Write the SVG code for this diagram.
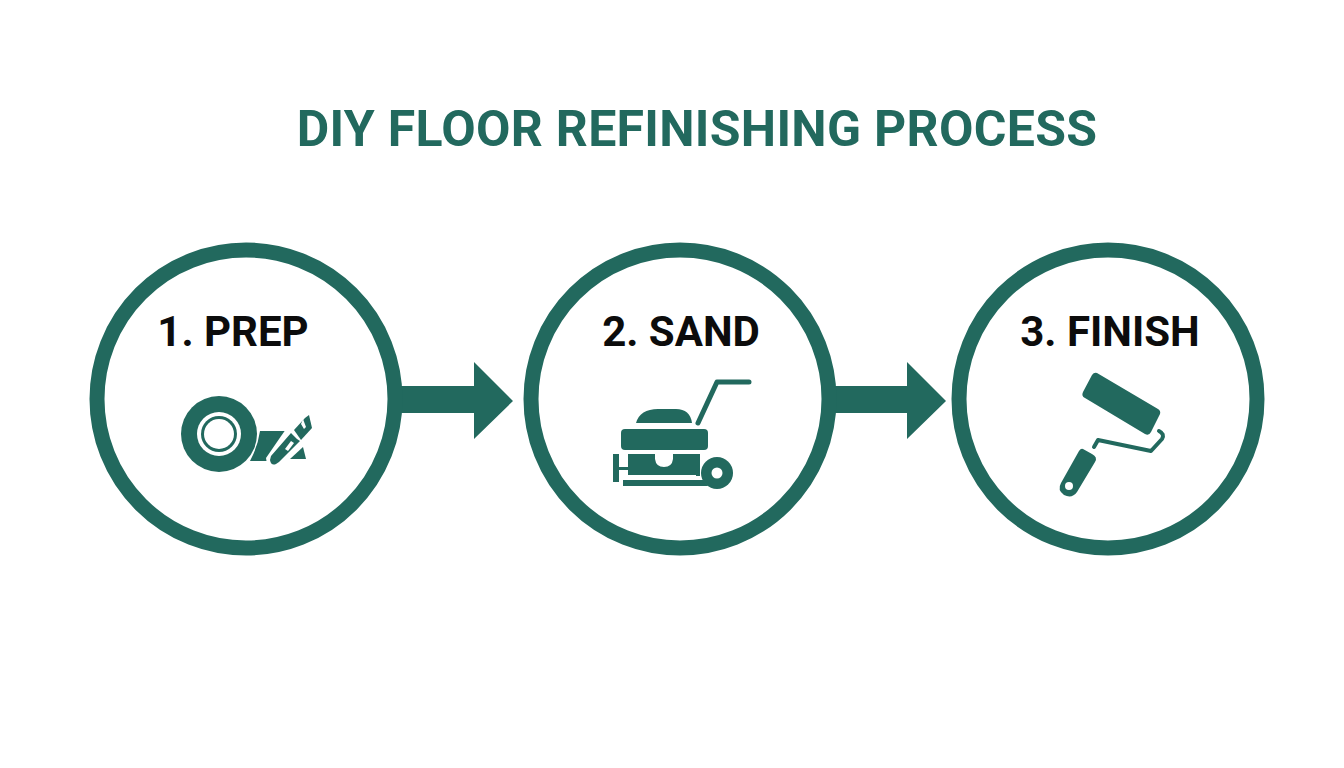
<svg xmlns="http://www.w3.org/2000/svg" width="1344" height="768" viewBox="0 0 1344 768">
<style>
.t{font-family:Roboto,"Liberation Sans",sans-serif;font-weight:700;text-anchor:middle}
.title{font-size:50px;fill:#22695e;letter-spacing:.3px}
.lab{font-size:42px;fill:#0c0c0c}
.ring{fill:#fff;stroke:#22695e;stroke-width:15}
.g{fill:#22695e}
.w{fill:#fff}
.ln{fill:none;stroke:#22695e;stroke-linecap:round;stroke-linejoin:round}
</style>
<rect width="1344" height="768" fill="#fff"/>
<text id="title" class="t title" x="697" y="146">DIY FLOOR REFINISHING PROCESS</text>
<g id="connectors">
<path class="g" d="M398 386H474V362L513 401L474 439V413H398Z"/>
<path class="g" d="M832 386H907V362L946 401L907 439V413H832Z"/>
</g>
<g id="node-prep">
<circle class="ring" cx="246" cy="399" r="149"/>
<text class="t lab" x="233" y="346">1. PREP</text>
<circle class="g" cx="219" cy="434" r="38"/>
<circle class="w" cx="219" cy="434" r="22"/>
<circle class="g" cx="219" cy="434" r="18"/>
<circle class="w" cx="219" cy="434" r="15"/>
<path class="g" d="M260 431H290L270 461H250Q258 446 260 431Z"/>
<path class="g" d="M303 447L306 459H290Z"/>
<path class="w" d="M297 413L311 413L316 432L278 470L268 470L266 458Z"/>
<path class="g" d="M276 464Q271 466 270 460L271 456L291 433L297 439L300 441L279 462Z"/>
<path class="g" d="M294 430L305 418L309 415L312 428L301 440Z"/>
<path class="w" d="M303 419L306 427L304 429L301 424Z"/>
<path class="w" d="M285 449L291 441L294 443L288 451Z"/>
</g>
<g id="node-sand">
<circle class="ring" cx="680" cy="399" r="149"/>
<text class="t lab" x="681" y="346">2. SAND</text>
<path class="g" d="M636 423Q640 409 658 409H676Q690 409 692 423Z"/>
<path class="ln" stroke-width="5" d="M698 423L717 382H749"/>
<rect class="g" x="621" y="429" width="87" height="21" rx="4"/>
<path class="g" d="M628 454H655V459Q656 467 664 467Q672 467 673 459V454H700V476H696V475H628V470H619V482H613V454H619V467H628Z"/>
<path class="g" d="M623 480H703L708 486H623Z"/>
<circle class="g" cx="717" cy="473" r="16"/>
<circle class="w" cx="717" cy="473" r="5.500"/>
</g>
<g id="node-finish">
<circle class="ring" cx="1108" cy="399" r="149"/>
<text class="t lab" x="1110" y="346">3. FINISH</text>
<path class="g" d="M1097 373L1158 409Q1161 411 1160 414L1151 432Q1149 436 1145 434L1085 398Q1081 396 1083 392L1092 375Q1094 372 1097 373Z"/>
<path class="ln" stroke-width="4" d="M1159 431Q1165 434 1162 439L1151 451L1098 440L1094 447"/>
<path class="g" d="M1083 449L1092 454Q1098 457 1095 462L1077 492Q1072 499 1064 495Q1057 490 1061 483L1079 451Q1081 448 1083 449Z"/>
<circle class="w" cx="1069" cy="486" r="4"/>
</g>
</svg>
